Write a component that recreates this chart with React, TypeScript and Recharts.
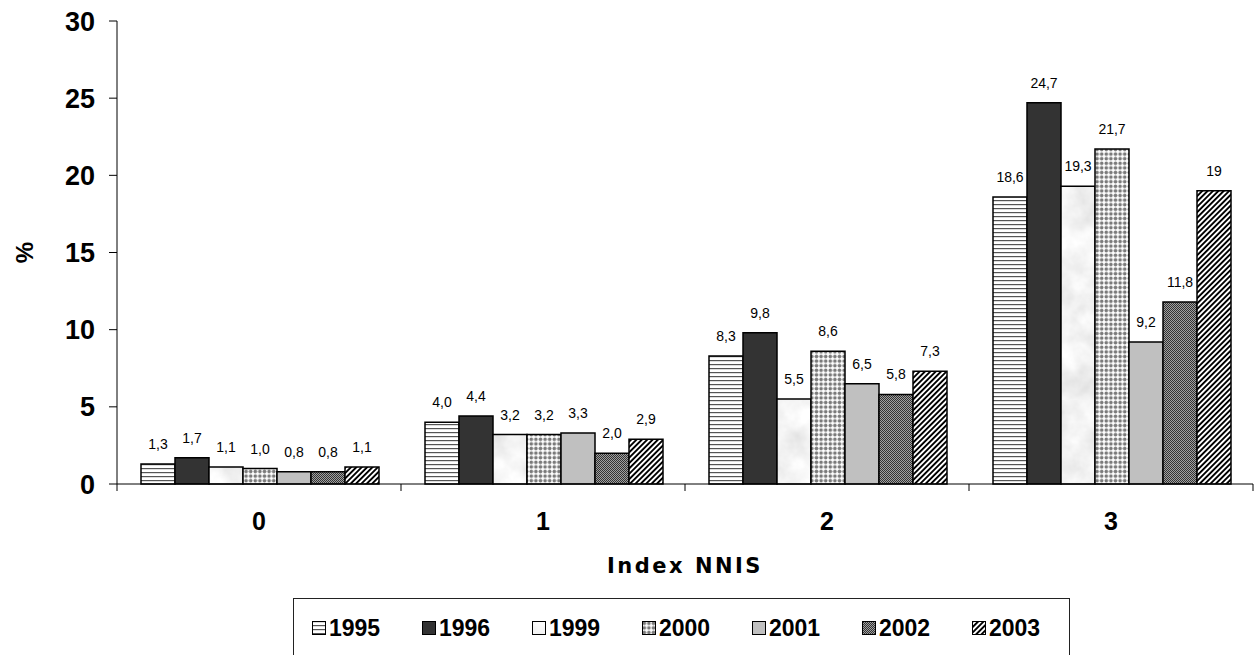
import React from 'react';
import { BarChart, Bar, XAxis, YAxis, Legend, LabelList, Label } from 'recharts';

const categories = ['0', '1', '2', '3'];
const years = ['1995', '1996', '1999', '2000', '2001', '2002', '2003'];

const v1995 = [1.3, 4.0, 8.3, 18.6];
const v1996 = [1.7, 4.4, 9.8, 24.7];
const v1999 = [1.1, 3.2, 5.5, 19.3];
const v2000 = [1.0, 3.2, 8.6, 21.7];
const v2001 = [0.8, 3.3, 6.5, 9.2];
const v2002 = [0.8, 2.0, 5.8, 11.8];
const v2003 = [1.1, 2.9, 7.3, 19];

const l1995 = ['1,3', '4,0', '8,3', '18,6'];
const l1996 = ['1,7', '4,4', '9,8', '24,7'];
const l1999 = ['1,1', '3,2', '5,5', '19,3'];
const l2000 = ['1,0', '3,2', '8,6', '21,7'];
const l2001 = ['0,8', '3,3', '6,5', '9,2'];
const l2002 = ['0,8', '2,0', '5,8', '11,8'];
const l2003 = ['1,1', '2,9', '7,3', '19'];

const yTicks = [0, 5, 10, 15, 20, 25, 30];

const seriesValues = [v1995, v1996, v1999, v2000, v2001, v2002, v2003];
const seriesLabels = [l1995, l1996, l1999, l2000, l2001, l2002, l2003];

const fills = [
  'url(#p1995)',
  '#333333',
  'url(#p1999)',
  'url(#p2000)',
  '#c0c0c0',
  'url(#p2002)',
  'url(#p2003)',
];

const data = categories.map((c, i) => {
  const row: Record<string, string | number> = { cat: c };
  years.forEach((y, k) => {
    row['v' + y] = seriesValues[k][i];
    row['l' + y] = seriesLabels[k][i];
  });
  return row;
});

const FONT = "Arial, 'Liberation Sans', sans-serif";

const Patterns = () => (
  <svg width={0} height={0} style={{ position: 'absolute', left: 0, top: 0 }}>
    <defs>
      <filter id="marbleF" x="0" y="0" width="100%" height="100%">
        <feTurbulence type="fractalNoise" baseFrequency="0.035" numOctaves="4" seed="7" />
        <feColorMatrix
          type="matrix"
          values="0.4 0 0 0 0.7  0.4 0 0 0 0.7  0.4 0 0 0 0.7  0 0 0 0 1"
        />
      </filter>
      <pattern id="p1995" patternUnits="userSpaceOnUse" width={4} height={4}>
        <rect width={4} height={4} fill="#fff" />
        <rect y={0} width={4} height={1.2} fill="#555" />
      </pattern>
      <pattern id="p1999" patternUnits="userSpaceOnUse" width={300} height={400}>
        <rect width={300} height={400} fill="#e8e8e8" filter="url(#marbleF)" />
      </pattern>
      <pattern id="p2000" patternUnits="userSpaceOnUse" width={4.6} height={4.6}>
        <rect width={4.6} height={4.6} fill="#fff" />
        <circle cx={2.3} cy={2.3} r={1.8} fill="#7a7a7a" />
      </pattern>
      <pattern id="p2002" patternUnits="userSpaceOnUse" width={2} height={2}>
        <rect width={2} height={2} fill="#a0a0a0" />
        <rect x={0} y={0} width={1} height={1} fill="#333" />
        <rect x={1} y={1} width={1} height={1} fill="#333" />
      </pattern>
      <pattern id="p2003" patternUnits="userSpaceOnUse" width={3.8} height={3.8} patternTransform="rotate(45)">
        <rect width={3.8} height={3.8} fill="#fff" />
        <rect x={0} y={0} width={1.9} height={3.8} fill="#000" />
      </pattern>
    </defs>
  </svg>
);

const XTick = (props: any) => {
  const { x, y, payload, index, visibleTicksCount, width } = props;
  const n = visibleTicksCount || categories.length;
  const half = width ? width / n / 2 : 142;
  const isLast = index === n - 1;
  return (
    <g>
      <line x1={x - half} y1={y} x2={x - half} y2={y + 7} stroke="#000" strokeWidth={1} />
      {isLast && <line x1={x + half} y1={y} x2={x + half} y2={y + 7} stroke="#000" strokeWidth={1} />}
      <text x={x} y={y + 46} textAnchor="middle" fontFamily={FONT} fontWeight="bold" fontSize={25} fill="#000">
        {payload.value}
      </text>
    </g>
  );
};

const renderLegend = () => (
  <div
    style={{
      width: 777,
      height: 62,
      border: '1px solid #222',
      boxSizing: 'border-box',
      position: 'relative',
      background: '#fff',
    }}
  >
    {years.map((y, i) => (
      <div
        key={y}
        style={{
          position: 'absolute',
          left: 18 + i * 110,
          top: 16,
          height: 26,
          display: 'flex',
          alignItems: 'center',
        }}
      >
        <svg width={14} height={14} style={{ display: 'block' }}>
          <rect x={0.5} y={0.5} width={13} height={13} fill={fills[i]} stroke="#000" strokeWidth={1} />
        </svg>
        <span
          style={{
            marginLeft: 3,
            fontFamily: FONT,
            fontWeight: 'bold',
            fontSize: 23,
            color: '#000',
            lineHeight: '26px',
          }}
        >
          {y}
        </span>
      </div>
    ))}
  </div>
);

export default function App() {
  return (
    <div style={{ position: 'absolute', left: 0, top: 0, width: 1254, height: 655, overflow: 'hidden', background: '#fff' }}>
      <Patterns />
      <BarChart
        width={1254}
        height={655}
        data={data}
        margin={{ top: 21, right: 1, left: 0, bottom: 76 }}
        barCategoryGap={24}
        barGap={0}
      >
        <XAxis
          dataKey="cat"
          height={95}
          axisLine={{ stroke: '#000', strokeWidth: 1 }}
          tickLine={false}
          tickSize={0}
          tickMargin={0}
          tick={<XTick />}
          interval={0}
        >
          <Label
            content={(p: any) => {
              const vb = p.viewBox || { x: 117, y: 484, width: 1136, height: 95 };
              return (
                <text
                  x={vb.x + vb.width / 2}
                  y={vb.y + 89}
                  textAnchor="middle"
                  fontFamily="'DejaVu Sans', sans-serif"
                  fontWeight="bold"
                  fontSize={21}
                  letterSpacing={2.5}
                  fill="#000"
                >
                  Index NNIS
                </text>
              );
            }}
          />
        </XAxis>
        <YAxis
          width={117}
          domain={[0, 30]}
          ticks={yTicks}
          interval={0}
          axisLine={{ stroke: '#000', strokeWidth: 1 }}
          tickLine={{ stroke: '#000', strokeWidth: 1 }}
          tickSize={8}
          tickMargin={14}
          tick={{ fontFamily: FONT, fontWeight: 'bold', fontSize: 27, fill: '#000' }}
        >
          <Label
            content={(p: any) => {
              const vb = p.viewBox || { x: 0, y: 21, width: 117, height: 463 };
              const cx = vb.x + 24;
              const cy = vb.y + vb.height / 2;
              return (
                <text
                  x={cx}
                  y={cy}
                  transform={`rotate(-90, ${cx}, ${cy})`}
                  textAnchor="middle"
                  dominantBaseline="central"
                  fontFamily={FONT}
                  fontWeight="bold"
                  fontSize={24}
                  fill="#000"
                >
                  %
                </text>
              );
            }}
          />
        </YAxis>
        <Legend
          layout="horizontal"
          verticalAlign="middle"
          align="center"
          content={renderLegend}
          wrapperStyle={{ position: 'absolute', left: 293, top: 598, width: 777, height: 62 }}
        />
        {years.map((y, i) => (
          <Bar
            key={y}
            dataKey={'v' + y}
            name={y}
            fill={fills[i]}
            stroke="#000"
            strokeWidth={1.5}
            isAnimationActive={false}
          >
            <LabelList
              dataKey={'l' + y}
              position="top"
              offset={15}
              style={{ fontFamily: FONT, fontSize: 14, fill: '#000' }}
            />
          </Bar>
        ))}
      </BarChart>
    </div>
  );
}
